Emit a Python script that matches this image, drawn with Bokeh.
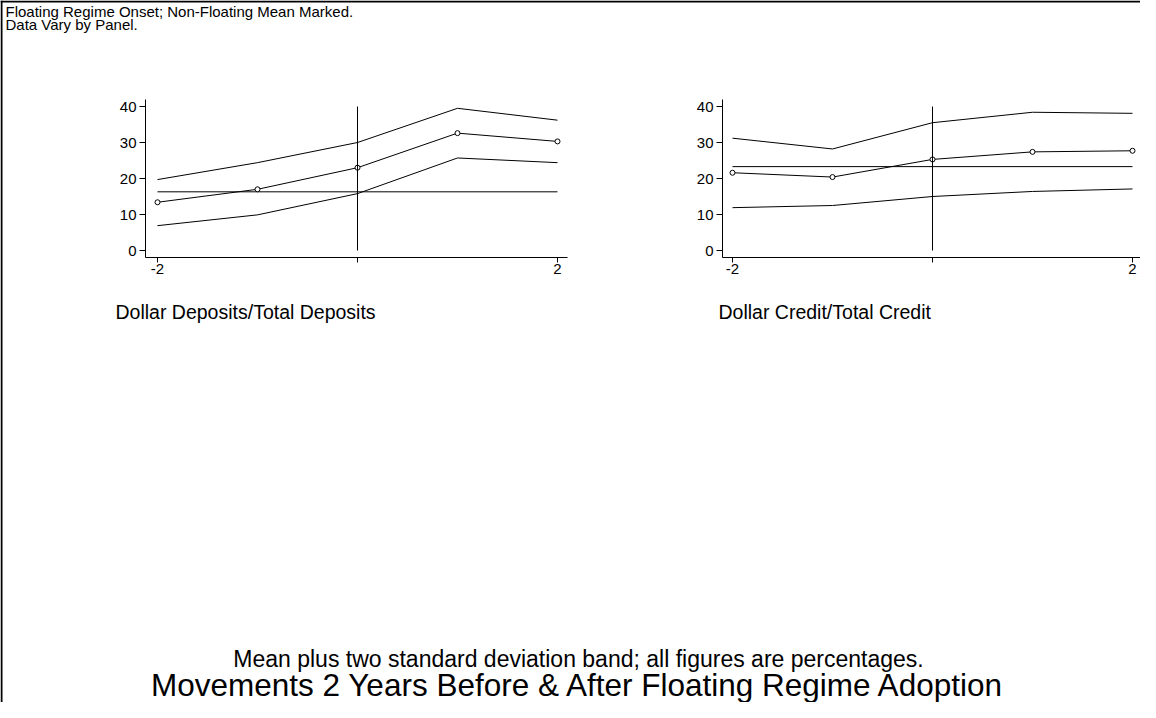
from bokeh.plotting import figure
from bokeh.models import Range1d, FixedTicker, LinearAxis
from bokeh.core.properties import value
from bokeh.embed import file_html
from bokeh.resources import INLINE

# ---------------- data ----------------
years = [-2, -1, 0, 1, 2]
x_ticks = [-2, 0, 2]
x_tick_labels = ["-2", "", "2"]
y_ticks = [0, 10, 20, 30, 40]

dep_mean = [13.4, 17.0, 23.0, 32.6, 30.3]
dep_upper = [19.7, 24.4, 30.0, 39.5, 36.2]
dep_lower = [6.9, 9.9, 15.8, 25.7, 24.4]
dep_nonfloat_mean = 16.3

cred_mean = [21.6, 20.4, 25.3, 27.4, 27.7]
cred_upper = [31.2, 28.2, 35.5, 38.4, 38.1]
cred_lower = [11.9, 12.5, 15.0, 16.4, 17.1]
cred_nonfloat_mean = 23.3

panel_titles = ["Dollar Deposits/Total Deposits", "Dollar Credit/Total Credit"]
header_lines = ["Floating Regime Onset; Non-Floating Mean Marked.", "Data Vary by Panel."]
note_text = "Mean plus two standard deviation band; all figures are percentages."
main_title = "Movements 2 Years Before & After Floating Regime Adoption"

# ---------------- layout (page pixels) ----------------
FONT = "Liberation Sans"
FW, FH = 1140, 702          # canvas size
OX, OY = 0, 0               # page position of canvas origin
PX_PER_YEAR = 100.0
PX_PER_PCT = 3.6
Y_ZERO_PX = 250             # page y of value 0
PANELS = [                   # page x of year -2, axis bounds
    dict(x_m2=157, lo=-2.12, hi=2.10),
    dict(x_m2=732, lo=-2.10, hi=2.11),
]
Y_LO, Y_HI = -1.94, 41.95

p = figure(title=None, frame_width=FW, frame_height=FH, x_range=Range1d(0, FW),
           y_range=Range1d(FH, 0), min_border=0, x_axis_type=None, y_axis_type=None,
           toolbar_location=None, output_backend="svg", tools="")
p.outline_line_color = None
p.grid.visible = False

# panel y range shared by both panels (value <-> page y)
y_bottom_val = (Y_ZERO_PX - (OY + FH)) / PX_PER_PCT
y_top_val = (Y_ZERO_PX - OY) / PX_PER_PCT
p.extra_y_ranges = {"py": Range1d(y_bottom_val, y_top_val)}

series = [
    (dep_mean, dep_upper, dep_lower, dep_nonfloat_mean),
    (cred_mean, cred_upper, cred_lower, cred_nonfloat_mean),
]

for i, (cfg, (mean, upper, lower, nf)) in enumerate(zip(PANELS, series)):
    name = f"p{i}x"
    start = years[0] + (OX - cfg["x_m2"]) / PX_PER_YEAR
    end = years[0] + (OX + FW - cfg["x_m2"]) / PX_PER_YEAR
    p.extra_x_ranges[name] = Range1d(start, end)

    xa = LinearAxis(x_range_name=name, y_range_name="py", fixed_location=Y_LO,
                    bounds=(cfg["lo"], cfg["hi"]), ticker=FixedTicker(ticks=x_ticks),
                    major_label_overrides={t: l for t, l in zip(x_ticks, x_tick_labels)},
                    major_tick_out=5, major_tick_in=0, major_label_standoff=2)
    ya = LinearAxis(x_range_name=name, y_range_name="py", fixed_location=cfg["lo"],
                    bounds=(Y_LO, Y_HI), ticker=FixedTicker(ticks=y_ticks),
                    major_tick_out=6, major_tick_in=0, major_label_standoff=3,
                    major_label_orientation="horizontal")
    for ax in (xa, ya):
        ax.axis_line_color = "black"
        ax.major_tick_line_color = "black"
        ax.minor_tick_line_color = None
        ax.major_label_text_font = FONT
        ax.major_label_text_font_size = "15px"
        ax.major_label_text_color = "black"
    p.add_layout(xa, "below")
    p.add_layout(ya, "left")

    kw = dict(x_range_name=name, y_range_name="py")
    p.line(years, upper, line_color="black", line_width=1, **kw)
    p.line(years, lower, line_color="black", line_width=1, **kw)
    p.line(years, mean, line_color="black", line_width=1, **kw)
    p.segment(x0=[years[0]], y0=[nf], x1=[years[-1]], y1=[nf],
              line_color="black", line_width=1, **kw)
    p.scatter(years, mean, size=5, marker="circle", fill_color="white",
              line_color="black", line_width=1, **kw)
    p.segment(x0=[0], y0=[y_ticks[0]], x1=[0], y1=[y_ticks[-1]],
              line_color="black", line_width=1, **kw)

# outer frame (left and top edges visible in the window)
p.segment(x0=[1 - OX, 0], y0=[0, 1 - OY], x1=[1 - OX, FW], y1=[FH, 1 - OY],
          line_color="black", line_width=2)

# texts
p.text(x=[5 - OX] * 2, y=[11 - OY, 24 - OY], text=header_lines, text_font=value(FONT),
       text_font_size="15px", text_color="black", text_baseline="alphabetic",
       text_align="left")
p.text(x=[115 - OX, 718 - OX], y=[311 - OY] * 2, text=panel_titles, text_font=value(FONT),
       text_font_size="19.5px", text_color="black", text_baseline="alphabetic",
       text_align="left")
p.text(x=[578 - OX], y=[658 - OY], text=[note_text], text_font=value(FONT),
       text_font_size="23px", text_color="black", text_baseline="alphabetic",
       text_align="center")
p.text(x=[578 - OX], y=[684 - OY], text=[main_title], text_font=value(FONT),
       text_font_size="31.5px", text_color="black", text_baseline="alphabetic",
       text_align="center")

open("out.html", "w").write(file_html(p, INLINE))
